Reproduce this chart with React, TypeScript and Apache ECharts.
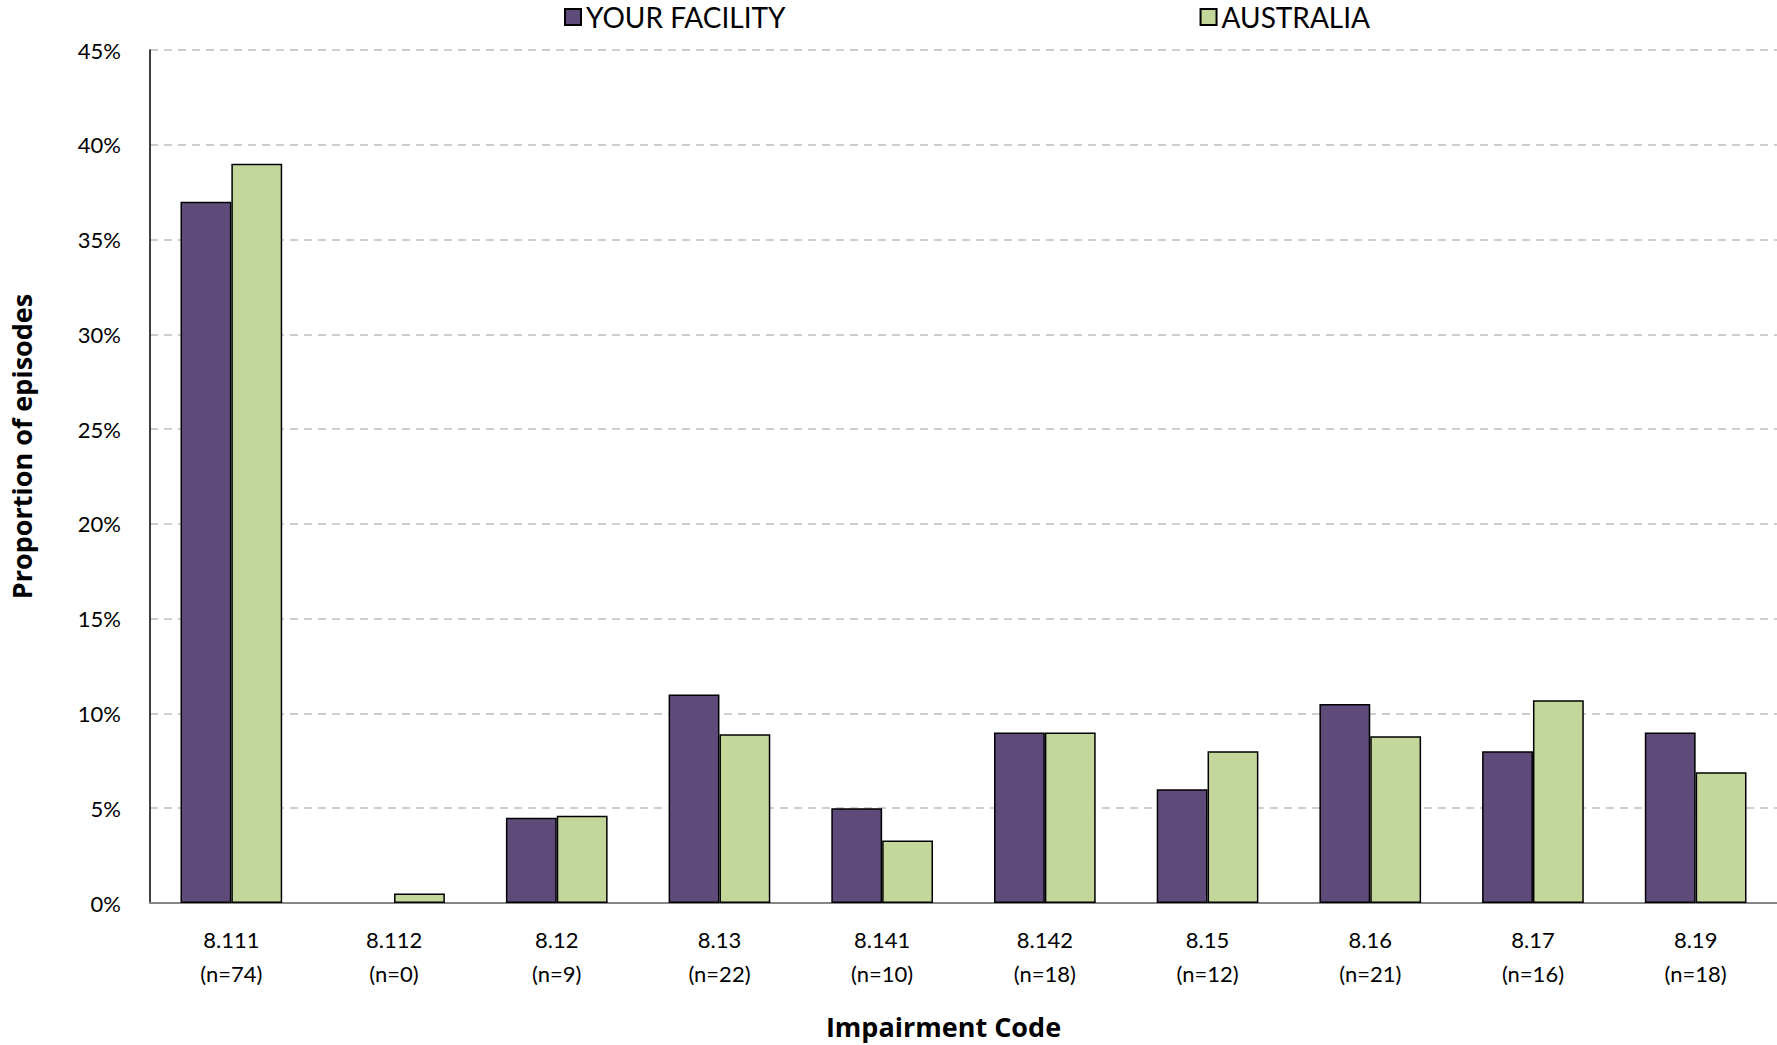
import React, { useEffect, useRef } from "react";
import * as echarts from "echarts";

const codes = ["8.111", "8.112", "8.12", "8.13", "8.141", "8.142", "8.15", "8.16", "8.17", "8.19"];
const counts = [74, 0, 9, 22, 10, 18, 12, 21, 16, 18];
const facility = [37, 0, 4.5, 11, 5, 9, 6, 10.5, 8, 9];
const australia = [39.0, 0.5, 4.6, 8.9, 3.3, 9.0, 8.0, 8.8, 10.7, 6.9];
const seriesNames = ["YOUR FACILITY", "AUSTRALIA"];
const yTicks = [0, 5, 10, 15, 20, 25, 30, 35, 40, 45];

const FONT = "Lato, 'Noto Sans', sans-serif";
const TITLE_FONT = "'Open Sans', 'Noto Sans', sans-serif";

const toBarData = (arr: number[]) =>
  arr.map((v) => (v === 0 ? { value: v, itemStyle: { borderWidth: 0 } } : v));

export default function App() {
  const ref = useRef<HTMLDivElement>(null);
  useEffect(() => {
    if (!ref.current) return;
    const chart = echarts.init(ref.current, null, { renderer: "svg" });
    const categories = codes.map((c, i) => `${c}\n(n=${counts[i]})`);
    chart.setOption({
      animation: false,
      backgroundColor: "#ffffff",
      textStyle: { fontFamily: FONT },
      legend: {
        top: -2,
        left: 559,
        itemGap: 414,
        itemWidth: 16,
        itemHeight: 16,
        icon: "rect",
        textStyle: { fontFamily: FONT, fontSize: 28, color: "#000" },
        data: seriesNames,
      },
      grid: { left: 150, right: 0, top: 50, bottom: 139.5, containLabel: false },
      xAxis: {
        type: "category",
        data: categories,
        name: "Impairment Code",
        nameLocation: "middle",
        nameGap: 110,
        nameTextStyle: { fontFamily: TITLE_FONT, fontWeight: "bold", fontSize: 27, color: "#000", padding: [0, 40, 0, 0] },
        axisLine: { lineStyle: { color: "#868686", width: 2 } },
        axisTick: { show: false },
        axisLabel: { color: "#000", fontSize: 22, lineHeight: 34, margin: 19, interval: 0 },
      },
      yAxis: {
        type: "value",
        min: 0,
        max: 45,
        interval: 5,
        name: "Proportion of episodes",
        nameLocation: "middle",
        nameGap: 115,
        nameTextStyle: { fontFamily: TITLE_FONT, fontWeight: "bold", fontSize: 27, color: "#000", padding: [0, 0, 0, 60] },
        axisLine: { show: true, lineStyle: { color: "#000", width: 1.5 } },
        axisTick: { show: false },
        axisLabel: {
          color: "#000",
          fontSize: 22,
          margin: 29,
          formatter: (v: number) => (yTicks.includes(v) ? `${v}%` : ""),
        },
        splitLine: { lineStyle: { color: "#bfbfbf", width: 1.5, type: [8, 6] } },
      },
      series: [
        {
          name: seriesNames[0],
          type: "bar",
          data: toBarData(facility),
          barGap: "0%",
          barCategoryGap: "37.5%",
          itemStyle: { color: "#5f4b7a", borderColor: "#000", borderWidth: 1.5 },
        },
        {
          name: seriesNames[1],
          type: "bar",
          data: toBarData(australia),
          barGap: "0%",
          barCategoryGap: "37.5%",
          itemStyle: { color: "#c4d79b", borderColor: "#000", borderWidth: 1.5 },
        },
      ],
    });
    return () => chart.dispose();
  }, []);
  return (
    <div
      ref={ref}
      style={{ position: "absolute", left: 0, top: 0, width: 1777, height: 1045 }}
    />
  );
}
